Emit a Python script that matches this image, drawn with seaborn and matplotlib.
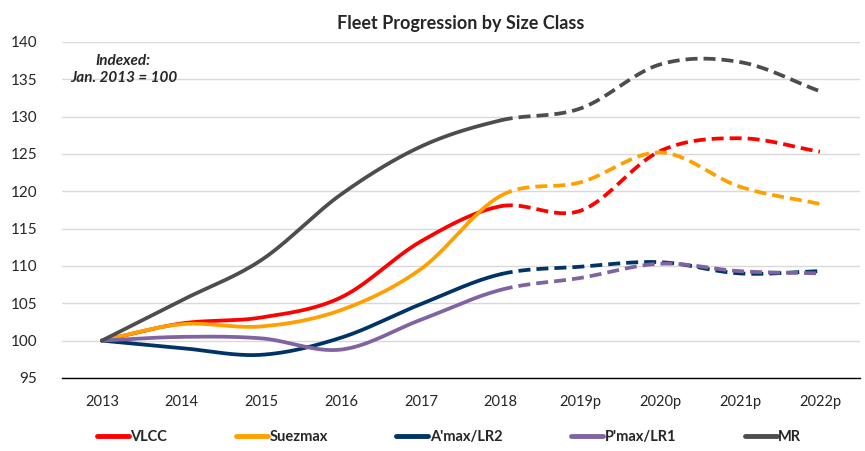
import numpy as np
import pandas as pd
import matplotlib
matplotlib.use("Agg")
import matplotlib.pyplot as plt
from matplotlib.lines import Line2D
import seaborn as sns

years = ['2013', '2014', '2015', '2016', '2017', '2018', '2019p', '2020p', '2021p', '2022p']
vlcc = [100, 102.3, 103.1, 105.8, 113.3, 118.0, 117.4, 125.4, 127.1, 125.3]
suezmax = [100, 102.2, 101.9, 104.1, 109.6, 119.4, 121.2, 125.2, 120.6, 118.3]
amax = [100, 99.0, 98.1, 100.4, 104.9, 108.9, 109.9, 110.5, 109.0, 109.3]
pmax = [100, 100.5, 100.3, 98.8, 102.8, 106.8, 108.4, 110.3, 109.3, 109.0]
mr = [100, 105.4, 110.8, 119.6, 126.0, 129.5, 131.1, 137.0, 137.3, 133.4]

series = {'VLCC': vlcc, 'Suezmax': suezmax, "A'max/LR2": amax, "P'max/LR1": pmax, 'MR': mr}
colors = {'VLCC': '#FF0000', 'Suezmax': '#FFA000', "A'max/LR2": '#003366',
          "P'max/LR1": '#8064A2', 'MR': '#4D4D4D'}
last_actual = 5  # 2018, after that projections (dashed)


def smooth(xs, ys, n=30):
    # Catmull-Rom path through the points, like Excel's smoothed line
    xs = np.asarray(xs, float)
    ys = np.asarray(ys, float)
    px = np.r_[2 * xs[0] - xs[1], xs, 2 * xs[-1] - xs[-2]]
    py = np.r_[2 * ys[0] - ys[1], ys, 2 * ys[-1] - ys[-2]]
    ox, oy = [], []
    for i in range(1, len(px) - 2):
        t = np.linspace(0, 1, n, endpoint=False)
        for arr, out in ((px, ox), (py, oy)):
            p0, p1, p2, p3 = arr[i - 1], arr[i], arr[i + 1], arr[i + 2]
            out.extend(0.5 * (2 * p1 + (-p0 + p2) * t + (2 * p0 - 5 * p1 + 4 * p2 - p3) * t ** 2
                              + (-p0 + 3 * p1 - 3 * p2 + p3) * t ** 3))
    ox.append(xs[-1])
    oy.append(ys[-1])
    return np.array(ox), np.array(oy)


rows = []
for name, vals in series.items():
    sx, sy = smooth(range(len(years)), vals)
    for a, b in zip(sx, sy):
        rows.append((name, a, b))
df = pd.DataFrame(rows, columns=['series', 'x', 'y'])

sns.set_style('white')
plt.rcParams['font.family'] = ['Lato', 'DejaVu Sans']

fig, ax = plt.subplots(figsize=(8.65, 4.51), dpi=100)
fig.subplots_adjust(left=0.0717, right=0.994, top=0.907, bottom=0.162)

for name in series:
    d = df[df.series == name]
    solid = d[d.x <= last_actual + 1e-9]
    dashed = d[d.x >= last_actual - 1e-9]
    sns.lineplot(data=solid, x='x', y='y', color=colors[name], lw=2.7, sort=False,
                 estimator=None, ax=ax, solid_capstyle='round')
    sns.lineplot(data=dashed, x='x', y='y', color=colors[name], lw=2.7, sort=False,
                 estimator=None, ax=ax, linestyle=(0, (3.2, 1.6)))

ax.set_xlim(-0.5, len(years) - 0.5)
ax.set_ylim(95, 140)
ax.set_yticks(range(95, 141, 5))
ax.set_xticks(range(len(years)))
ax.set_xticklabels(years)
ax.set_xticks(np.arange(-0.5, len(years), 1), minor=True)
ax.tick_params(axis='x', which='major', length=0, pad=12, labelsize=10.5)
ax.tick_params(axis='x', which='minor', length=6, width=0.8, color='#404040', direction='out')
ax.tick_params(axis='y', length=0, pad=18, labelsize=11)
ax.grid(axis='y', color='#D9D9D9', lw=1)
ax.set_axisbelow(True)
for s in ['top', 'right', 'left']:
    ax.spines[s].set_visible(False)
ax.spines['bottom'].set_color('#000000')
ax.spines['bottom'].set_linewidth(1)
ax.set_xlabel('')
ax.set_ylabel('')

ax.set_title('Fleet Progression by Size Class', fontsize=13, fontweight='bold', pad=9)
ax.text(0.27, 136.3, 'Indexed:\nJan. 2013 = 100', ha='center', va='center', fontsize=11,
        fontweight='bold', fontstyle='italic', linespacing=1.3)

handles = [Line2D([], [], color=colors[n], lw=3.5) for n in series]
leg = fig.legend(handles, list(series), loc='center', bbox_to_anchor=(449 / 865, 1 - 437 / 451),
                 ncol=5, frameon=False, handlelength=2.2, handletextpad=0.1, columnspacing=4.7,
                 prop={'weight': 'bold', 'size': 10.5})

fig.savefig('out.png', dpi=100)
